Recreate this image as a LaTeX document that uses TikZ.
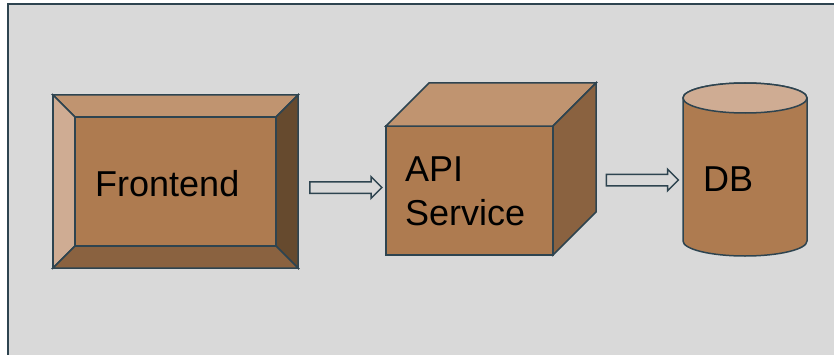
\documentclass[tikz,border=0pt]{standalone}
\usepackage{fontspec}
\setmainfont{Liberation Sans}
\usepackage{tikz}
\usetikzlibrary{calc,shapes.arrows}
\definecolor{edgeline}{HTML}{2E4450}
\definecolor{canvas}{HTML}{D9D9D9}
\definecolor{facefront}{HTML}{AE7B50}
\definecolor{facetop}{HTML}{C09470}
\definecolor{faceside}{HTML}{8A6240}
\definecolor{facelight}{HTML}{CFAC93}
\definecolor{facedark}{HTML}{664A2E}
\tikzstyle{face node} = [draw=edgeline,line width=1.5pt,fill=facefront,inner sep=0,outer sep=0]
\tikzstyle{face line} = [draw=edgeline,line width=1.5pt,line join=miter]
\tikzstyle{flow arrow} = [single arrow,draw=edgeline,line width=1.5pt,fill=canvas,
                          inner sep=5pt,single arrow head extend=5pt,minimum height=72pt]

\begin{document}
\begin{tikzpicture}[x=1pt,y=1pt,
                    font=\fontsize{36}{44}\selectfont
                    ]
\useasboundingbox (0,0) rectangle (834,354);
\clip (0,0) rectangle (834,354);
\draw[edgeline,line width=1.8pt,fill=canvas] (8,350) rectangle (900,-40);

    % Frontend, bevelled box
    \node(fe)[face node, minimum width=245pt, minimum height=173pt] at (175.5,172.5){};
    \coordinate (fe-nw) at ($(fe.north west)+(22,-22)$);
    \coordinate (fe-ne) at ($(fe.north east)+(-22,-22)$);
    \coordinate (fe-se) at ($(fe.south east)+(-22,22)$);
    \coordinate (fe-sw) at ($(fe.south west)+(22,22)$);
    \draw[face line,fill=facetop]   (fe.north west)--(fe.north east)--(fe-ne)--(fe-nw)--cycle;
    \draw[face line,fill=facelight] (fe.north west)--(fe-nw)--(fe-sw)--(fe.south west)--cycle;
    \draw[face line,fill=facedark]  (fe.north east)--(fe.south east)--(fe-se)--(fe-ne)--cycle;
    \draw[face line,fill=faceside]  (fe.south west)--(fe-sw)--(fe-se)--(fe.south east)--cycle;
    \draw[face line] (fe-nw) rectangle (fe-se);
    \node(fe-text)[anchor=base west, inner sep=0] at (95,158){Frontend};

    % API Service, cube
    \node(api)[face node, minimum width=167pt, minimum height=129pt] at (469.5,163.5){};
    \draw[face line,fill=facetop]  (api.north west)--++(43,43)--++(167,0)--(api.north east)--cycle;
    \draw[face line,fill=faceside] (api.north east)--++(43,43)--++(0,-129)--(api.south east)--cycle;
    \coordinate (api-side) at ($(api.east)+(43,0)$);
    \node(api-text)[anchor=north west, align=left, inner sep=0] at (405,197){API\\Service};

    % DB, cylinder
    \node(db)[minimum width=124pt, minimum height=173pt, inner sep=0, outer sep=0] at (745,184.5){};
    \draw[face line,fill=facefront] ([yshift=-15]db.north west)--([yshift=15]db.south west)
        arc[start angle=180, end angle=360, x radius=62, y radius=15]
        --([yshift=-15]db.north east)
        arc[start angle=0, end angle=180, x radius=62, y radius=15]--cycle;
    \draw[face line,fill=facelight] ([yshift=-15]db.north) ellipse[x radius=62, y radius=15];
    \node(db-text)[anchor=base west, inner sep=0] at (703,163){DB};

    % flows
    \node(a1)[flow arrow] at ($(fe.east)!0.5!(api.west)+(1,-1.5)$){};
    \node(a2)[flow arrow] at ($(api-side)!0.5!(db.west)$){};

\end{tikzpicture}
\end{document}
